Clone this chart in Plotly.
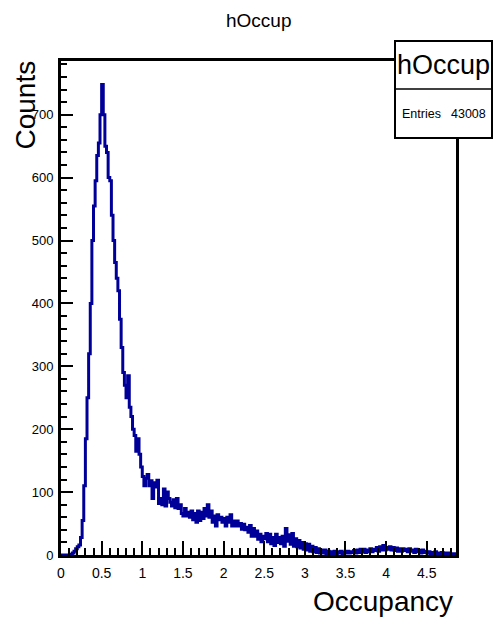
import numpy as np
import plotly.graph_objects as go

# ---- data (histogram hOccup, bin width 0.02 starting at 0) ----
bin_width = 0.02
x_min = 0.0
x_max = 4.86
counts = [
    0, 0, 0, 0, 0, 0, 1, 3, 6, 10,
    13, 16, 28, 55, 110, 185, 250, 320, 400, 500,
    555, 595, 635, 655, 700, 748, 700, 650, 640, 600,
    595, 540, 500, 465, 440, 420, 375, 330, 290, 270,
    250, 285, 235, 220, 200, 190, 165, 185, 160, 140,
    125, 110, 122, 128, 110, 118, 90, 115, 108, 119,
    82, 90, 80, 105, 78, 100, 90, 84, 78, 88,
    75, 90, 74, 80, 66, 62, 74, 62, 68, 60,
    70, 56, 66, 52, 70, 55, 68, 58, 74, 62,
    80, 60, 70, 52, 62, 46, 64, 56, 60, 52,
    58, 46, 60, 52, 64, 46, 54, 46, 54, 46,
    50, 41, 49, 40, 44, 36, 47, 30, 42, 30,
    38, 25, 33, 21, 30, 26, 34, 21, 33, 18,
    28, 15, 33, 20, 28, 18, 30, 14, 42, 22,
    32, 17, 34, 14, 26, 13, 23, 11, 20, 9,
    18, 8, 17, 6, 14, 5, 12, 4, 10, 3,
    8, 3, 8, 2, 6, 2,
    5, 2, 6, 2, 5, 3, 6, 2, 4, 3, 6, 3, 5, 4, 7, 3, 8, 4, 9, 5,
    9, 4, 8, 5, 10, 5, 9, 7, 12, 6, 13, 8, 15, 8, 12, 9, 13, 8, 12, 7,
    11, 6, 10, 6, 10, 7, 9, 5, 10, 6, 8, 4, 9, 5, 7, 3, 8, 4, 6, 3,
    5, 2, 4, 2, 5, 1, 3, 2, 4, 1, 3, 2, 3, 1, 2, 1, 2,
]
hist_name = "hOccup"
entries = 43008
x_title = "Occupancy"
y_title = "Counts"

# ---- geometry of the page (pixels) ----
W, H = 498, 618
L, R, T, B = 61, 456, 61, 555  # frame edges


def px(xp):
    return (xp - L) / (R - L)


def py(yp):
    return (B - yp) / (B - T)


counts_arr = np.array(counts, dtype=float)
edges = x_min + np.arange(len(counts_arr) + 1) * bin_width
xs = np.concatenate([edges[:-1], [edges[-1]]])
ys = np.concatenate([counts_arr, [counts_arr[-1]]])
y_max = counts_arr.max() * 1.05

font = "Liberation Sans, Arial, Helvetica, sans-serif"

fig = go.Figure()
fig.add_trace(go.Scatter(
    x=xs, y=ys, mode="lines", line_shape="hv",
    line=dict(color="#000099", width=3),
    hoverinfo="skip", showlegend=False,
))

fig.update_layout(
    width=W, height=H,
    margin=dict(l=L, r=W - R, t=T, b=H - B),
    paper_bgcolor="white", plot_bgcolor="white",
    font=dict(family=font, color="black"),
    showlegend=False,
)
fig.update_xaxes(
    range=[x_min, x_max], showgrid=False, zeroline=False,
    showline=True, linecolor="black", linewidth=3, mirror=True,
    ticks="inside", ticklen=14, tickwidth=2, tickcolor="black",
    tick0=0, dtick=0.5,
    minor=dict(ticks="inside", ticklen=7, tickwidth=2, tickcolor="black", dtick=0.1),
    tickfont=dict(size=14, family=font, color="black"),
    ticklabelstandoff=3,
)
fig.update_yaxes(
    range=[0, y_max], showgrid=False, zeroline=False,
    showline=True, linecolor="black", linewidth=3, mirror=True,
    ticks="inside", ticklen=12, tickwidth=2, tickcolor="black",
    tick0=0, dtick=100,
    minor=dict(ticks="inside", ticklen=6, tickwidth=2, tickcolor="black", dtick=20),
    tickfont=dict(size=13, family=font, color="black"),
    ticklabelstandoff=2,
)

# title
fig.add_annotation(text=hist_name, xref="paper", yref="paper",
                   x=px(258), y=py(20), showarrow=False,
                   xanchor="center", yanchor="middle",
                   font=dict(size=19, family=font, color="black"))
# axis titles
fig.add_annotation(text=y_title, xref="paper", yref="paper",
                   x=px(25), y=py(59), showarrow=False, textangle=-90,
                   xanchor="center", yanchor="top",
                   font=dict(size=28, family=font, color="black"))
fig.add_annotation(text=x_title, xref="paper", yref="paper",
                   x=px(455), y=py(601), showarrow=False,
                   xanchor="right", yanchor="middle",
                   font=dict(size=28, family=font, color="black"))

# stats box
fig.add_shape(type="rect", xref="paper", yref="paper",
              x0=px(395), x1=px(492), y0=py(138), y1=py(41),
              line=dict(color="black", width=2), fillcolor="white", layer="above")
fig.add_shape(type="line", xref="paper", yref="paper",
              x0=px(395), x1=px(492), y0=py(89), y1=py(89),
              line=dict(color="black", width=1.5), layer="above")
fig.add_annotation(text=hist_name, xref="paper", yref="paper",
                   x=px(443.5), y=py(65), showarrow=False,
                   xanchor="center", yanchor="middle",
                   font=dict(size=27, family=font, color="black"))
fig.add_annotation(text="Entries", xref="paper", yref="paper",
                   x=px(400), y=py(114), showarrow=False,
                   xanchor="left", yanchor="middle",
                   font=dict(size=12.5, family=font, color="black"))
fig.add_annotation(text=str(entries), xref="paper", yref="paper",
                   x=px(488), y=py(114), showarrow=False,
                   xanchor="right", yanchor="middle",
                   font=dict(size=12.5, family=font, color="black"))

fig.write_html("out.html")
